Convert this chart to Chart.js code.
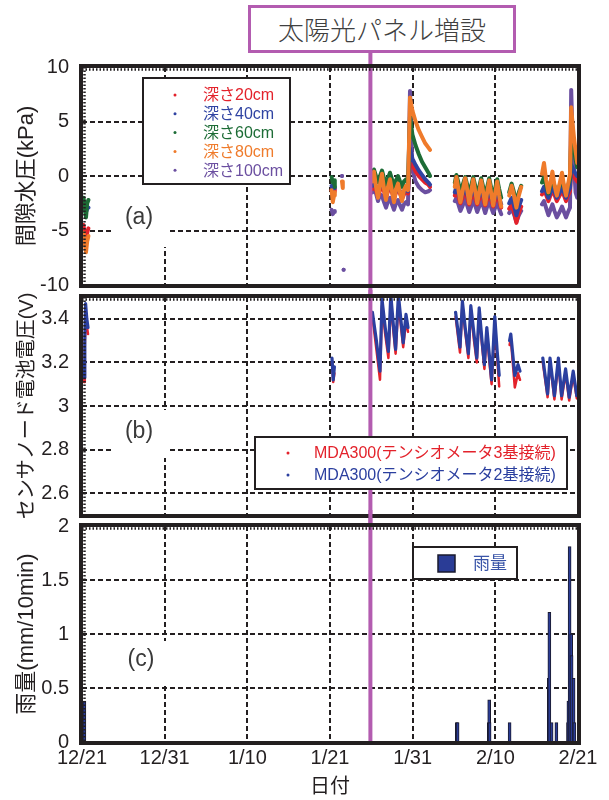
<!DOCTYPE html>
<html>
<head>
<meta charset="utf-8">
<script src="https://cdn.jsdelivr.net/npm/chart.js@4.4.0/dist/chart.umd.min.js"></script>
<style>
html,body{margin:0;padding:0;background:#fff;}
#wrap{position:relative;width:609px;height:800px;overflow:hidden;background:#fff;}
canvas{position:absolute;left:0;}
#cA{top:52px;} #cB{top:290px;} #cC{top:510px;}
#banner{position:absolute;left:248px;top:5px;width:262px;height:42px;border:3px solid #b35cb0;
  font:26px "Noto Sans CJK JP",sans-serif;font-weight:300;color:#404040;text-align:center;line-height:42px;background:#fff;z-index:2;}
</style>
</head>
<body>
<div id="wrap">
  <div id="banner">太陽光パネル増設</div>
  <canvas id="cA" width="609" height="248"></canvas>
  <canvas id="cB" width="609" height="235"></canvas>
  <canvas id="cC" width="609" height="290"></canvas>
</div>
<script>
// ---------- axis data ----------
const xTickDays = [0, 10.33, 20.67, 31, 41.33, 51.67, 62];
const xTickLabels = ['12/21', '12/31', '1/10', '1/21', '1/31', '2/10', '2/21'];
const solarDay = 36.05;

const yTicksA = [-10, -5, 0, 5, 10];
const yTicksB = [2.6, 2.8, 3, 3.2, 3.4];
const yTicksC = [0, 0.5, 1, 1.5, 2];

// ---------- (a) pore water pressure, kPa ----------
const depthLabels = ['深さ20cm', '深さ40cm', '深さ60cm', '深さ80cm', '深さ100cm'];
const tA = [
  0.2, 0.35, 0.5, 0.65, 0.8,
  15,
  31.2, 31.35, 31.5, 31.6,
  32,
  32.5, 32.6, 32.7,
  33,
  36.3, 36.5, 36.75, 37, 37.25, 37.5, 37.75, 38, 38.25, 38.5, 38.75, 39, 39.25, 39.5, 39.75, 40, 40.25, 40.5, 40.75,
  41, 41.3, 41.7, 42.1, 42.5, 42.9, 43.3, 43.5,
  45,
  46.6, 46.8, 47.05, 47.3, 47.6, 47.9, 48.15, 48.4, 48.65, 48.9, 49.15, 49.4, 49.65, 49.9, 50.15, 50.4, 50.65, 50.9, 51.15, 51.4, 51.65, 51.9, 52.15, 52.4,
  53,
  53.4, 53.7, 54, 54.3, 54.6, 54.9,
  56,
  57.5, 57.75, 58, 58.3, 58.55, 58.8, 59.05, 59.35, 59.7, 60, 60.25, 60.5, 60.75, 61,
  61.15, 61.3, 61.5, 61.7, 61.9
];
const pw20 = [
  -4.5, -5.8, -6.3, -5.2, -4.8,
  null,
  -1.3, -1.5, -1.4, -1.2,
  null,
  null, null, null,
  null,
  -1.2, -0.8, -1.3, -1.9, -1.3, -0.9, -1.4, -2.0, -1.4, -1.0, -1.5, -2.1, -1.5, -1.2, -1.6, -2.1, -1.7, -1.4, -1.6,
  1.5, 1.0, 0.4, 0.0, -0.3, -0.6, -0.8, -1.0,
  null,
  -1.8, -1.3, -1.9, -2.5, -1.9, -1.3, -2.0, -2.6, -2.0, -1.4, -2.0, -2.6, -2.1, -1.5, -2.1, -2.7, -2.1, -1.5, -2.2, -2.8, -2.2, -1.6, -2.3, -2.9,
  null,
  -3.0, -2.6, -3.3, -4.3, -3.4, -2.8,
  null,
  -1.7, -1.3, -1.7, -2.3, -1.8, -1.3, -1.7, -2.3, -1.8, -1.3, -1.8, -2.3, -1.8, -1.4,
  0.5, 0.3, 0.0, -0.3, -0.5
];
const pw40 = [
  -2.8, -3.2, -3.3, -3.0, -2.9,
  null,
  -0.9, -1.2, -1.0, -1.1,
  null,
  null, null, null,
  null,
  -0.9, -0.5, -1.0, -1.5, -1.0, -0.6, -1.1, -1.6, -1.2, -0.8, -1.3, -1.8, -1.4, -1.0, -1.4, -1.8, -1.5, -1.2, -1.4,
  2.5, 1.6, 1.0, 0.5, 0.1, -0.3, -0.6, -0.8,
  null,
  -1.5, -1.0, -1.6, -2.2, -1.6, -1.0, -1.7, -2.3, -1.7, -1.1, -1.7, -2.3, -1.8, -1.2, -1.8, -2.4, -1.8, -1.2, -1.9, -2.5, -1.9, -1.3, -2.0, -2.6,
  null,
  -2.5, -2.0, -2.7, -3.6, -2.8, -2.2,
  null,
  -1.4, -1.0, -1.4, -2.0, -1.5, -1.0, -1.4, -2.0, -1.5, -1.0, -1.5, -2.0, -1.5, -1.1,
  1.0, 0.8, 0.5, 0.2, 0.0
];
const pw60 = [
  -2.0, -3.0, -3.8, -2.5, -2.2,
  null,
  -0.1, -0.6, -0.4, -1.0,
  null,
  null, null, null,
  null,
  0.0, 0.6, 0.0, -0.6, 0.0, 0.5, -0.2, -0.8, -0.2, 0.3, -0.3, -1.0, -0.4, 0.0, -0.5, -1.0, -0.5, -0.3, -0.6,
  5.5, 3.8, 2.8, 2.0, 1.3, 0.8, 0.3, 0.0,
  null,
  -0.6, 0.1, -0.6, -1.6, -0.8, -0.1, -0.8, -1.7, -0.9, -0.1, -0.9, -1.8, -1.0, -0.2, -1.0, -1.8, -1.0, -0.2, -1.1, -1.9, -1.1, -0.3, -1.2, -2.0,
  null,
  -1.5, -0.7, -1.5, -2.5, -1.5, -0.9,
  null,
  -0.6, -0.1, -0.8, -1.6, -0.9, -0.3, -0.9, -1.5, -0.9, -0.3, -1.0, -1.5, -0.9, -0.3,
  3.5, 3.0, 2.5, 1.5, 0.8
];
const pw80 = [
  -5.2, -6.3, -7.0, -6.0, -5.5,
  null,
  -1.3, -2.4, -1.8, -1.5,
  null,
  -0.5, -1.1, null,
  null,
  -0.5, 0.4, -1.0, -2.0, -0.8, 0.2, -1.2, -2.2, -1.0, -0.3, -1.4, -2.4, -1.2, -0.7, -1.5, -2.3, -1.3, -0.9, -1.3,
  7.2, 6.0, 5.0, 4.2, 3.6, 3.0, 2.6, 2.4,
  null,
  -1.0, -0.1, -1.2, -2.4, -1.3, -0.2, -1.3, -2.5, -1.4, -0.3, -1.4, -2.5, -1.5, -0.4, -1.5, -2.6, -1.5, -0.4, -1.6, -2.7, -1.6, -0.5, -1.8, -2.8,
  null,
  -1.8, -0.9, -1.8, -2.9, -1.8, -1.0,
  null,
  0.2, 1.2, -0.3, -1.5, -0.6, 0.4, -0.8, -1.8, -0.7, 0.3, -0.9, -1.8, -0.8, 0.2,
  6.3, 5.0, 3.5, 2.3, 1.2
];
const pw100 = [
  null, null, null, null, null,
  null,
  -3.1, -3.5, -3.3, -3.2,
  null,
  0.0, null, -8.6,
  null,
  -1.5, -1.0, -1.6, -2.3, -1.7, -1.8, -2.4, -2.9, -2.3, -2.0, -2.6, -3.1, -2.5, -2.2, -2.7, -3.1, -2.6, -2.4, -2.6,
  7.8, 0.5, -0.5, -1.0, -1.3, -1.5, -1.4, -1.3,
  null,
  -2.3, -2.0, -2.6, -3.2, -2.7, -2.1, -2.7, -3.3, -2.8, -2.1, -2.7, -3.3, -2.8, -2.2, -2.8, -3.4, -2.8, -2.2, -2.9, -3.4, -2.9, -2.3, -3.0, -3.5,
  null,
  -3.4, -3.0, -3.5, -4.2, -3.6, -3.2,
  null,
  -2.6, -2.3, -2.9, -3.6, -3.1, -2.6, -3.2, -3.8, -3.3, -2.8, -3.3, -3.8, -3.3, -2.9,
  7.9, 4.0, 1.0, -1.5, -2.0
];

// ---------- (b) sensor node battery voltage, V ----------
const batteryLabels = ['MDA300(テンシオメータ3基接続)', 'MDA300(テンシオメータ2基接続)'];
const tB = [
  0.15, 0.25, 0.35, 0.45, 0.6, 0.75,
  15,
  31.25, 31.4, 31.55,
  33,
  36.3, 36.8, 37.25, 37.5, 37.9, 38.3, 38.6, 38.9, 39.2, 39.55, 39.85, 40.15, 40.5, 40.75,
  44,
  46.7, 47.25, 47.55, 47.9, 48.3, 48.6, 49, 49.35, 49.65, 50, 50.3, 50.6, 50.9, 51.2, 51.6, 51.9, 52.15,
  53,
  53.45, 53.6, 54.1, 54.5, 54.75,
  56,
  57.6, 58.2, 58.5, 59.05, 59.55, 59.95, 60.45, 60.9, 61.4, 61.85, 62
];
const volt3 = [
  3.17, 3.11, 3.27, 3.44, 3.37, 3.33,
  null,
  3.20, 3.11, 3.15,
  null,
  3.41, 3.26, 3.12, 3.46, 3.33, 3.22, 3.47, 3.35, 3.24, 3.47, 3.37, 3.27, 3.39, 3.34,
  null,
  3.41, 3.245, 3.46, 3.34, 3.22, 3.44, 3.30, 3.20, 3.43, 3.28, 3.17, 3.34, 3.21, 3.10, 3.39, 3.22, 3.09,
  null,
  3.28, 3.31, 3.085, 3.15, 3.12,
  null,
  3.20, 3.04, 3.20, 3.03, 3.20, 3.03, 3.15, 3.025, 3.14, 3.035, 3.06
];
const volt2 = [
  3.20, 3.13, 3.30, 3.47, 3.40, 3.36,
  null,
  3.22, 3.12, 3.18,
  null,
  3.43, 3.30, 3.16, 3.49, 3.36, 3.25, 3.51, 3.38, 3.26, 3.51, 3.40, 3.29, 3.42, 3.36,
  null,
  3.43, 3.27, 3.48, 3.36, 3.24, 3.46, 3.33, 3.22, 3.45, 3.30, 3.19, 3.36, 3.24, 3.12, 3.41, 3.25, 3.14,
  null,
  3.30, 3.33, 3.14, 3.19, 3.16,
  null,
  3.22, 3.055, 3.22, 3.047, 3.22, 3.047, 3.17, 3.04, 3.16, 3.047, 3.07
];

// ---------- (c) rainfall, mm/10min ----------
const rainLabel = '雨量';
const rainDays = [0.3, 46.85, 46.95, 50.85, 50.9, 50.95, 53.45, 58.35, 58.42, 58.7, 59.3, 60.75, 60.8, 60.95, 61.15, 61.2, 61.45, 61.55];
const rainMm   = [0.38, 0.18, 0.18, 0.18, 0.39, 0.18, 0.18, 0.59, 1.2, 0.18, 0.18, 0.18, 0.38, 1.81, 1.0, 0.8, 0.59, 0.18];

// ---------- styling ----------
const INK = '#231f20';
const SOLAR = '#b35cb0';
const FONT = '"Liberation Sans", "Noto Sans CJK JP", sans-serif';
Chart.defaults.font.family = FONT;
Chart.defaults.color = INK;

const pts = (t, v) => t.map((x, i) => ({ x: x, y: v[i] }));
const isolatedRadius = ctx => {
  const d = ctx.dataset.data, i = ctx.dataIndex;
  if (!d[i] || d[i].y == null) return 0;
  const p = d[i - 1], n = d[i + 1];
  return ((!p || p.y == null) && (!n || n.y == null)) ? 2 : 0;
};

function xScale(show) {
  return {
    type: 'linear', min: 0, max: 62, offset: false,
    afterBuildTicks: s => { s.ticks = xTickDays.map(v => ({ value: v })); },
    afterFit: s => { s.height = show ? 58 : 0; s.paddingLeft = 0; s.paddingRight = 0; },
    grid: { color: INK, lineWidth: 2, drawTicks: false, offset: false },
    border: { display: false, dash: [5, 3] },
    ticks: { display: show, padding: 4, color: INK, font: { size: 20 }, maxRotation: 0, autoSkip: false,
             callback: (v, i) => xTickLabels[i] },
    title: { display: show, text: '日付', color: INK, font: { size: 20 }, padding: { top: 0, bottom: 1 } }
  };
}
function yScale(min, max, ticks, title, tsize) {
  const lh = tsize * 1.2;
  return {
    min: min, max: max,
    afterBuildTicks: s => { s.ticks = ticks.map(v => ({ value: v })); },
    afterFit: s => { s.width = 82; s.paddingTop = 0; s.paddingBottom = 0; },
    grid: { color: INK, lineWidth: 2, drawTicks: false },
    border: { display: false, dash: [5, 3] },
    ticks: { padding: 13, color: INK, font: { size: 20 }, callback: v => String(v) },
    title: { display: true, text: title, color: INK, font: { size: tsize }, padding: { top: 27 - lh / 2, bottom: 0 } }
  };
}

const panelPlugin = {
  id: 'panel',
  beforeDatasetsDraw(chart, args, o) {
    const { ctx, chartArea: a } = chart;
    ctx.save();
    ctx.fillStyle = '#fff';
    ctx.fillRect(a.left + o.tagBox[0], a.top + o.tagBox[1], o.tagBox[2], o.tagBox[3]);
    ctx.fillStyle = '#3a3a3a';
    ctx.font = '23px ' + FONT;
    ctx.textAlign = 'center'; ctx.textBaseline = 'middle';
    ctx.fillText(o.tag, a.left + o.tagPos[0], a.top + o.tagPos[1]);
    ctx.restore();
  },
  afterDatasetsDraw(chart, args, o) {
    const { ctx, chartArea: a } = chart;
    const x = chart.scales.x.getPixelForValue(solarDay);
    ctx.save();
    // solar panel line
    ctx.strokeStyle = SOLAR; ctx.lineWidth = 4;
    ctx.beginPath(); ctx.moveTo(x, 0); ctx.lineTo(x, o.lineToArea ? a.bottom : chart.height); ctx.stroke();
    // frame
    ctx.strokeStyle = INK; ctx.lineWidth = 4;
    ctx.strokeRect(a.left - 1, a.top - 1, a.right - a.left + 2, a.bottom - a.top + 2);
    ctx.setLineDash([1.5, 2]); ctx.lineWidth = 2.5;
    ctx.beginPath();
    ctx.moveTo(a.left, a.top + 2.5); ctx.lineTo(a.right, a.top + 2.5);
    ctx.moveTo(a.left + 2.5, a.top); ctx.lineTo(a.left + 2.5, a.bottom);
    ctx.stroke();
    ctx.setLineDash([]);
    // legend
    const L = o.legend;
    const bx = a.left + L.box[0], by = a.top + L.box[1];
    ctx.fillStyle = '#fff'; ctx.fillRect(bx, by, L.box[2], L.box[3]);
    ctx.strokeStyle = INK; ctx.lineWidth = 2; ctx.strokeRect(bx, by, L.box[2], L.box[3]);
    ctx.font = L.font + 'px ' + FONT;
    ctx.textAlign = 'left'; ctx.textBaseline = 'middle';
    chart.data.datasets.forEach((ds, i) => {
      const y = by + L.row0 + i * L.rowGap;
      const c = ds.legendColor;
      if (L.square) {
        ctx.fillStyle = c; ctx.fillRect(bx + L.markX - 8, y - 8, 17, 17);
        ctx.strokeStyle = '#1a1a2e'; ctx.lineWidth = 1.5; ctx.strokeRect(bx + L.markX - 8, y - 8, 17, 17);
      } else {
        ctx.fillStyle = c; ctx.beginPath(); ctx.arc(bx + L.markX, y, 1.5, 0, Math.PI * 2); ctx.fill();
      }
      ctx.fillStyle = ds.textColor || c;
      ctx.fillText(ds.label, bx + L.textX, y + 1);
    });
    ctx.restore();
  }
};

const base = {
  responsive: false, animation: false, devicePixelRatio: 1, events: [],
  elements: { line: { tension: 0, borderCapStyle: 'round', borderJoinStyle: 'round' } }
};

// ---------- chart (a) ----------
const colorsA = ['#e3222b', '#2f43a2', '#1d6c36', '#ef7b2b', '#6b4fa0'];
const orderA = [3, 2, 1, 0, 4];
const seriesA = [pw20, pw40, pw60, pw80, pw100];
new Chart(document.getElementById('cA'), {
  type: 'scatter',
  data: {
    datasets: seriesA.map((s, i) => ({
      label: depthLabels[i], data: pts(tA, s), showLine: true, spanGaps: false,
      borderColor: colorsA[i], backgroundColor: colorsA[i], legendColor: colorsA[i],
      borderWidth: 4, pointRadius: isolatedRadius, pointBorderWidth: 0, order: orderA[i]
    }))
  },
  options: Object.assign({}, base, {
    layout: { padding: { top: 15, right: 31, bottom: 15, left: 0 } },
    scales: { x: xScale(false), y: yScale(-10, 10, yTicksA, '間隙水圧(kPa)', 22) },
    plugins: {
      legend: { display: false }, tooltip: { enabled: false },
      panel: {
        tag: '(a)', tagPos: [57, 151], tagBox: [30, 120, 58, 60],
        legend: { box: [61, 11, 147, 106], markX: 32, textX: 60, row0: 17, rowGap: 18.8, font: 16 }
      }
    }
  }),
  plugins: [panelPlugin]
});

// ---------- chart (b) ----------
const colorsB = ['#e3222b', '#2b3f9f'];
const seriesB = [volt3, volt2];
new Chart(document.getElementById('cB'), {
  type: 'scatter',
  data: {
    datasets: seriesB.map((s, i) => ({
      label: batteryLabels[i], data: pts(tB, s), showLine: true, spanGaps: false,
      borderColor: colorsB[i], backgroundColor: colorsB[i], legendColor: colorsB[i],
      borderWidth: i === 0 ? 2.5 : 3.2, pointRadius: 0, order: 1 - i
    }))
  },
  options: Object.assign({}, base, {
    layout: { padding: { top: 7, right: 31, bottom: 10, left: 0 } },
    scales: { x: xScale(false), y: yScale(2.5, 3.5, yTicksB, 'センサノード電池電圧(V)', 20) },
    plugins: {
      legend: { display: false }, tooltip: { enabled: false },
      panel: {
        tag: '(b)', tagPos: [57, 135], tagBox: [30, 113, 58, 48],
        legend: { box: [173, 140, 312, 52], markX: 33, textX: 59, row0: 16, rowGap: 22, font: 16 }
      }
    }
  }),
  plugins: [panelPlugin]
});

// ---------- chart (c) ----------
new Chart(document.getElementById('cC'), {
  type: 'bar',
  data: {
    datasets: [{
      label: rainLabel, data: pts(rainDays, rainMm),
      backgroundColor: '#2a3c96', borderColor: '#1a1a2e', borderWidth: { left: 1, right: 1, top: 1, bottom: 0 },
      barThickness: 3, legendColor: '#2a3c96', textColor: '#3a55a8'
    }]
  },
  options: Object.assign({}, base, {
    layout: { padding: { top: 16, right: 31, bottom: 0, left: 0 } },
    scales: { x: xScale(true), y: yScale(0, 2, yTicksC, '雨量(mm/10min)', 22) },
    plugins: {
      legend: { display: false }, tooltip: { enabled: false },
      panel: {
        tag: '(c)', tagPos: [59, 134], tagBox: [30, 115, 58, 43], lineToArea: true,
        legend: { box: [331, 21, 104, 32], markX: 33, textX: 60, row0: 16, rowGap: 0, font: 17, square: true }
      }
    }
  }),
  plugins: [panelPlugin]
});
</script>
</body>
</html>
